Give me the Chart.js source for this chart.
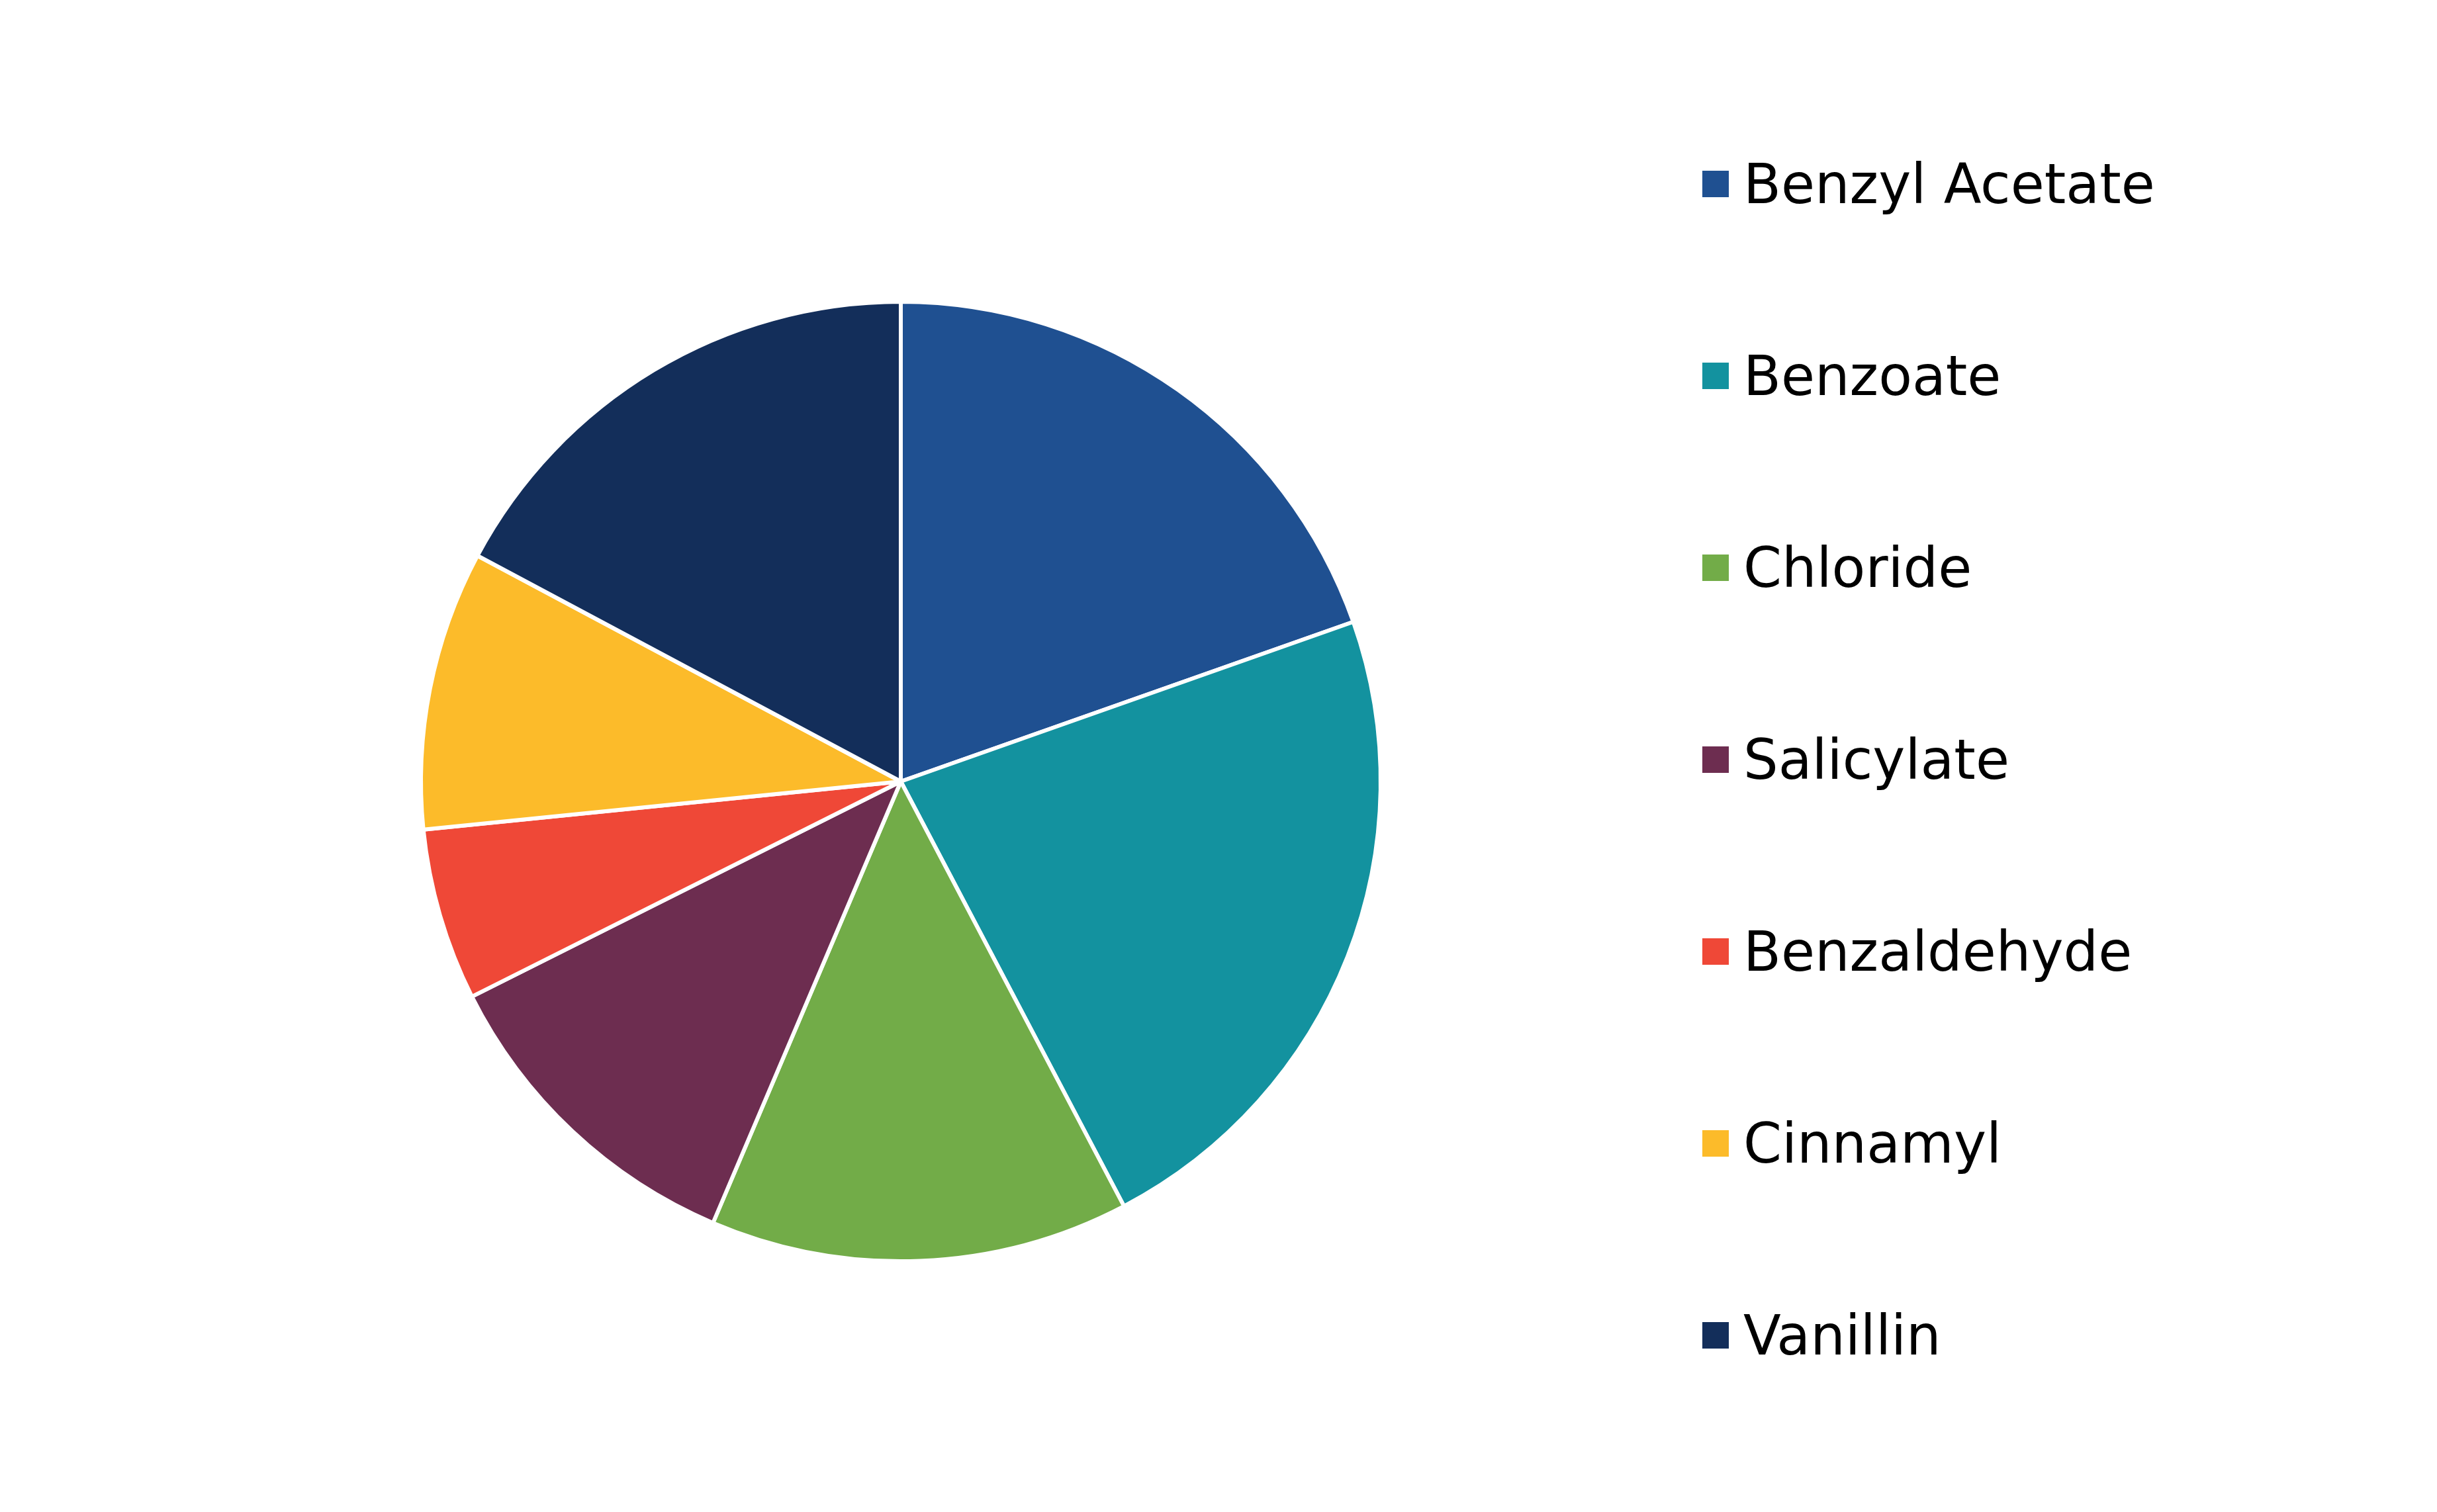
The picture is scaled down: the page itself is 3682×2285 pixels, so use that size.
<!DOCTYPE html>
<html>
<head>
<meta charset="utf-8">
<script src="https://cdn.jsdelivr.net/npm/chart.js@4"></script>
<style>
  html, body { margin: 0; padding: 0; background: #ffffff; }
  #wrap { position: relative; width: 3682px; height: 2285px; overflow: hidden; background: #ffffff; }
  #chart { position: absolute; left: 0; top: 0; }
  #legend { position: absolute; left: 0; top: 0; font-family: "DejaVu Sans", Verdana, sans-serif; font-size: 83px; color: #000000; }
  .item { position: absolute; left: 2572px; height: 82px; display: flex; align-items: center; white-space: nowrap; line-height: 1; }
  .box { width: 40px; height: 40px; margin-right: 22px; flex: none; }
</style>
</head>
<body>
<div id="wrap">
  <canvas id="chart" width="3682" height="2285"></canvas>
  <div id="legend"></div>
</div>
<script>
const categories = ["Benzyl Acetate", "Benzoate", "Chloride", "Salicylate", "Benzaldehyde", "Cinnamyl", "Vanillin"];
const shares = [19.6, 22.7, 14.1, 11.2, 5.8, 9.4, 17.2];
const sliceColors = ["#1F5091", "#13929F", "#72AC48", "#6D2D50", "#EF4837", "#FCBB2A", "#132E5A"];

const ctx = document.getElementById("chart").getContext("2d");
new Chart(ctx, {
  type: "pie",
  data: {
    labels: categories,
    datasets: [{
      data: shares,
      backgroundColor: sliceColors,
      borderColor: "#ffffff",
      borderWidth: 6,
      radius: 725
    }]
  },
  options: {
    responsive: false,
    devicePixelRatio: 1,
    animation: false,
    events: [],
    layout: { padding: { left: 0, right: 960, top: 77, bottom: 0 } },
    plugins: {
      legend: { display: false },
      tooltip: { enabled: false }
    }
  }
});

const legend = document.getElementById("legend");
categories.forEach((name, i) => {
  const item = document.createElement("div");
  item.className = "item";
  item.style.top = (278 + i * 290 - 41) + "px";
  const box = document.createElement("span");
  box.className = "box";
  box.style.background = sliceColors[i];
  const txt = document.createElement("span");
  txt.textContent = name;
  item.appendChild(box);
  item.appendChild(txt);
  legend.appendChild(item);
});
</script>
</body>
</html>
